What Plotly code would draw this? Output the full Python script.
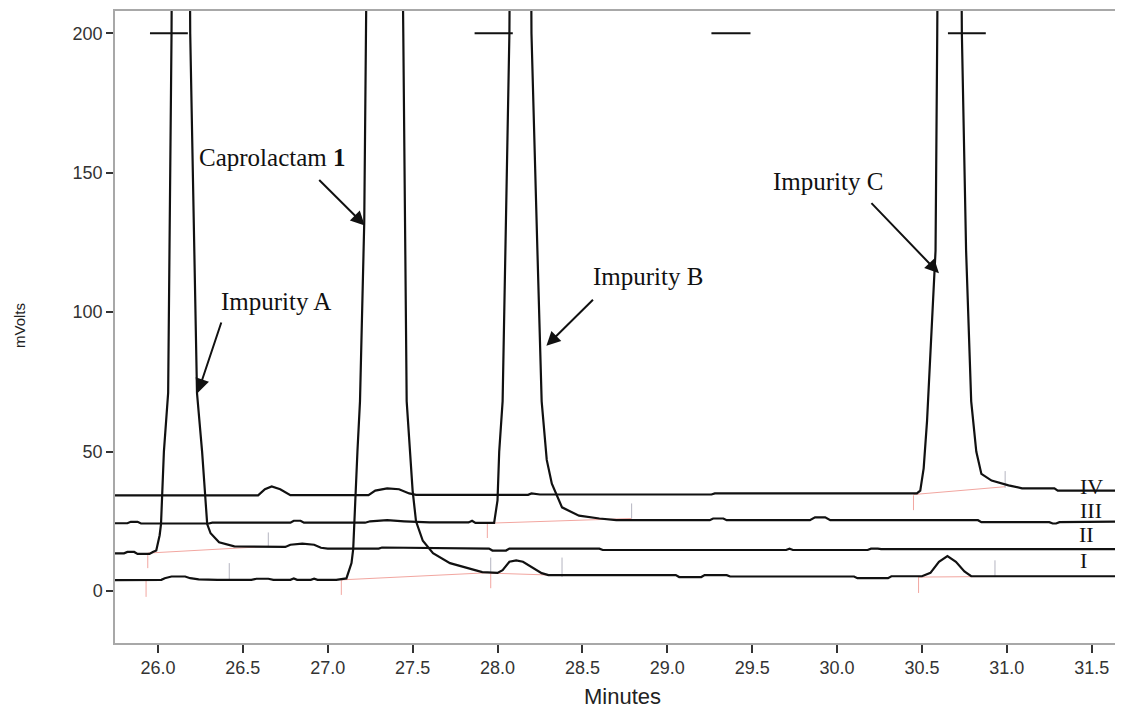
import plotly.graph_objects as go

# ---------------- data ----------------
# Trace I
t_I = [25.747, 25.95, 26.02, 26.04, 26.08, 26.16, 26.19, 26.24, 26.35, 26.55, 26.58, 26.65, 26.68,
       26.78, 26.80, 26.82, 26.90, 26.92, 26.94, 27.05, 27.11, 27.14, 27.15, 27.175, 27.19, 27.215,
       27.225, 27.33, 27.445, 27.455, 27.465, 27.50, 27.52, 27.56, 27.62, 27.72, 27.82, 27.91, 28.00,
       28.03, 28.07, 28.11, 28.15, 28.20, 28.26, 28.30, 29.05, 29.07, 29.20, 29.22, 29.35, 29.37,
       30.10, 30.12, 30.30, 30.32, 30.50, 30.55, 30.60, 30.65, 30.70, 30.75, 30.79, 31.676]
v_I = [3.9, 3.9, 4.0, 4.6, 5.2, 5.2, 4.6, 4.2, 4.0, 4.0, 4.4, 4.4, 4.0,
       4.0, 4.5, 4.0, 4.0, 4.4, 4.0, 4.0, 4.5, 10, 15, 50, 68, 132,
       200, 900, 200, 120, 68, 36, 25, 18, 13.6, 10, 8.2, 6.8, 6.5,
       7.5, 10.5, 11.0, 10.5, 8.5, 6.4, 5.7, 5.7, 5.0, 5.0, 5.7, 5.7, 5.2,
       5.2, 4.6, 4.6, 5.3, 5.3, 6.5, 10.5, 12.5, 10.5, 7.0, 5.3, 5.3]

# Trace II
t_II = [25.747, 25.80, 25.82, 25.86, 25.88, 25.95, 25.97, 25.99, 26.01, 26.018, 26.035, 26.06, 26.08,
        26.13, 26.19, 26.23, 26.26, 26.29, 26.31, 26.36, 26.45, 26.75, 26.78, 26.85, 26.92, 26.96,
        27.00, 27.30, 27.32, 27.95, 27.97, 28.05, 28.07, 28.60, 28.62, 29.70, 29.72, 29.74, 30.18,
        30.20, 30.24, 30.26, 31.676]
v_II = [13.5, 13.5, 14.0, 14.0, 13.3, 13.3, 14.0, 14.5, 20, 24, 50, 71, 200,
        900, 200, 71, 50, 24, 20.7, 17.5, 16.0, 15.8, 16.6, 17.0, 16.6, 15.5,
        15.2, 15.2, 15.6, 15.2, 14.5, 14.5, 15.2, 15.2, 14.7, 14.7, 15.2, 14.7, 14.7,
        15.2, 15.2, 15.0, 15.0]

# Trace III
t_III = [25.747, 25.82, 25.84, 25.88, 25.90, 26.30, 26.32, 26.78, 26.80, 26.84, 26.86, 27.22, 27.25,
         27.35, 27.45, 27.60, 27.83, 27.85, 27.87, 27.98, 28.00, 28.01, 28.03, 28.07, 28.14, 28.20,
         28.235, 28.26, 28.29, 28.32, 28.38, 28.48, 28.60, 28.70, 29.25, 29.27, 29.33, 29.35, 29.84,
         29.87, 29.93, 29.96, 30.83, 30.85, 31.25, 31.27, 31.29, 31.31, 31.676]
v_III = [24.3, 24.3, 24.8, 24.8, 24.2, 24.2, 24.5, 24.5, 25.2, 25.2, 24.5, 24.5, 25.0,
         25.4, 25.0, 24.6, 24.6, 25.2, 24.4, 24.4, 32.5, 50, 68, 200, 900, 200,
         122, 68, 47, 38.5, 30, 27, 26, 25.4, 25.4, 26.0, 26.0, 25.4, 25.4,
         26.4, 26.4, 25.4, 25.4, 24.7, 24.7, 24.2, 24.2, 24.7, 24.9]

# Trace IV
t_IV = [25.747, 26.59, 26.63, 26.67, 26.72, 26.78, 27.24, 27.28, 27.35, 27.42, 27.48, 27.52, 28.18,
        28.20, 28.25, 29.26, 29.28, 30.47, 30.49, 30.51, 30.53, 30.58, 30.59, 30.66, 30.735, 30.75,
        30.76, 30.79, 30.82, 30.85, 30.91, 31.01, 31.09, 31.28, 31.30, 31.676]
v_IV = [34.3, 34.3, 36.5, 37.5, 36.5, 34.4, 34.4, 36.0, 36.8, 36.5, 35.0, 34.5, 34.5,
        35.0, 34.6, 34.6, 35.0, 35.0, 36, 44, 61, 122, 200, 900, 200, 157,
        122, 68, 50, 42, 39.6, 37.9, 36.8, 36.8, 36.0, 36.0]

# Peak-top range markers (drawn at 200 mV)
mark_start = [25.953, 27.865, 29.26, 30.653]
mark_end = [26.176, 28.09, 29.49, 30.876]
mark_level = 200

# Integration baselines (red)
base_t0 = [25.94, 27.08, 27.96, 27.94, 30.45, 30.48]
base_v0 = [13.6, 4.0, 6.4, 24.3, 34.6, 5.0]
base_t1 = [26.65, 27.96, 28.38, 28.79, 30.99, 30.93]
base_v1 = [16.0, 6.6, 5.6, 26.0, 37.4, 5.2]

# Integration start ticks (pink) and end ticks (gray)
start_t = [25.94, 25.93, 27.08, 27.96, 27.94, 30.45, 30.48]
start_lo = [8.2, -2.1, -1.4, 1.0, 19.0, 29.0, -0.7]
start_hi = [12.9, 3.9, 3.9, 6.5, 24.3, 34.3, 5.0]
end_t = [26.42, 26.65, 27.96, 28.38, 28.79, 30.99, 30.93]
end_lo = [3.9, 16.0, 6.5, 5.0, 26.0, 37.0, 5.0]
end_hi = [10.0, 21.0, 12.0, 12.0, 31.4, 43.0, 11.0]

trace_names = ["I", "II", "III", "IV"]
trace_label_t = [31.453, 31.47, 31.494, 31.50]
trace_label_v = [11.1, 20.4, 28.9, 37.5]

x_ticks = [26.0, 26.5, 27.0, 27.5, 28.0, 28.5, 29.0, 29.5, 30.0, 30.5, 31.0, 31.5]
y_ticks = [0, 50, 100, 150, 200]

# Annotated peaks: text position, arrow tail, arrow head
ann_text = ["Caprolactam <b>1</b>", "Impurity A", "Impurity B", "Impurity C"]
ann_tx = [26.67, 26.694, 28.888, 29.947]
ann_ty = [155.4, 103.9, 112.9, 146.8]
arr_tail_x = [26.941, 26.376, 28.571, 30.194]
arr_tail_y = [147.9, 96.8, 105.0, 139.6]
arr_head_x = [27.218, 26.235, 28.288, 30.60]
arr_head_y = [131.1, 71.1, 87.9, 113.9]


def segments(x0, y0, x1, y1):
    xs, ys = [], []
    for a, b, c, d in zip(x0, y0, x1, y1):
        xs += [a, c, None]
        ys += [b, d, None]
    return xs, ys


fig = go.Figure()

# integration baselines and ticks (drawn under the traces)
bx, by = segments(base_t0, base_v0, base_t1, base_v1)
fig.add_trace(go.Scatter(x=bx, y=by, mode="lines", line=dict(color="#f2a6a0", width=1),
                         hoverinfo="skip", showlegend=False))
sx, sy = segments(start_t, start_lo, start_t, start_hi)
fig.add_trace(go.Scatter(x=sx, y=sy, mode="lines", line=dict(color="#f2a6a0", width=1),
                         hoverinfo="skip", showlegend=False))
ex, ey = segments(end_t, end_lo, end_t, end_hi)
fig.add_trace(go.Scatter(x=ex, y=ey, mode="lines", line=dict(color="#b4b4c0", width=1),
                         hoverinfo="skip", showlegend=False))

for name, t, v in [("I", t_I, v_I), ("II", t_II, v_II), ("III", t_III, v_III), ("IV", t_IV, v_IV)]:
    fig.add_trace(go.Scatter(x=t, y=v, mode="lines", name=name,
                             line=dict(color="#111111", width=2.2), showlegend=False))

mx, my = segments(mark_start, [mark_level] * 4, mark_end, [mark_level] * 4)
fig.add_trace(go.Scatter(x=mx, y=my, mode="lines", line=dict(color="#111111", width=2),
                         hoverinfo="skip", showlegend=False))

serif = "Liberation Serif, Times New Roman, serif"
sans = "Liberation Sans, Arial, sans-serif"

annotations = []
for txt, tx, ty in zip(ann_text, ann_tx, ann_ty):
    annotations.append(dict(x=tx, y=ty, xref="x", yref="y", text=txt, showarrow=False,
                            font=dict(family=serif, size=25, color="#111111"),
                            xanchor="center", yanchor="middle"))
for hx, hy, tx, ty in zip(arr_head_x, arr_head_y, arr_tail_x, arr_tail_y):
    annotations.append(dict(x=hx, y=hy, xref="x", yref="y", ax=tx, ay=ty, axref="x", ayref="y",
                            text="", showarrow=True, arrowhead=2, arrowsize=1.4, arrowwidth=2,
                            arrowcolor="#111111", standoff=0, startstandoff=0))
for name, tx, ty in zip(trace_names, trace_label_t, trace_label_v):
    annotations.append(dict(x=tx, y=ty, xref="x", yref="y", text=name, showarrow=False,
                            font=dict(family=serif, size=22, color="#111111"),
                            xanchor="center", yanchor="middle"))
annotations.append(dict(x=0.507, y=0, xref="paper", yref="paper", yshift=-53, text="Minutes",
                        showarrow=False, font=dict(family=sans, size=22, color="#222222"),
                        xanchor="center", yanchor="middle"))
annotations.append(dict(x=0, y=0.5016, xref="paper", yref="paper", xshift=-95, text="mVolts",
                        textangle=-90, showarrow=False,
                        font=dict(family=sans, size=15, color="#222222"),
                        xanchor="center", yanchor="middle"))

fig.update_layout(
    width=1107, height=701,
    margin=dict(l=107, r=0, t=3, b=66),
    paper_bgcolor="white", plot_bgcolor="white",
    annotations=annotations,
    showlegend=False,
)
fig.update_xaxes(range=[25.747, 31.637], tickvals=x_ticks, tickformat=".1f",
                 ticks="outside", ticklen=8, tickwidth=2, tickcolor="#333333",
                 showline=True, linecolor="#a8a8a8", linewidth=1.5, mirror=True,
                 showgrid=False, zeroline=False,
                 tickfont=dict(family=sans, size=18, color="#333333"))
fig.update_yaxes(range=[-18.64, 207.97], tickvals=y_ticks,
                 ticks="outside", ticklen=7, tickwidth=2, tickcolor="#333333",
                 showline=True, linecolor="#a8a8a8", linewidth=1.5, mirror=False,
                 showgrid=False, zeroline=False,
                 tickfont=dict(family=sans, size=18, color="#333333"))

fig.write_html("out.html")
